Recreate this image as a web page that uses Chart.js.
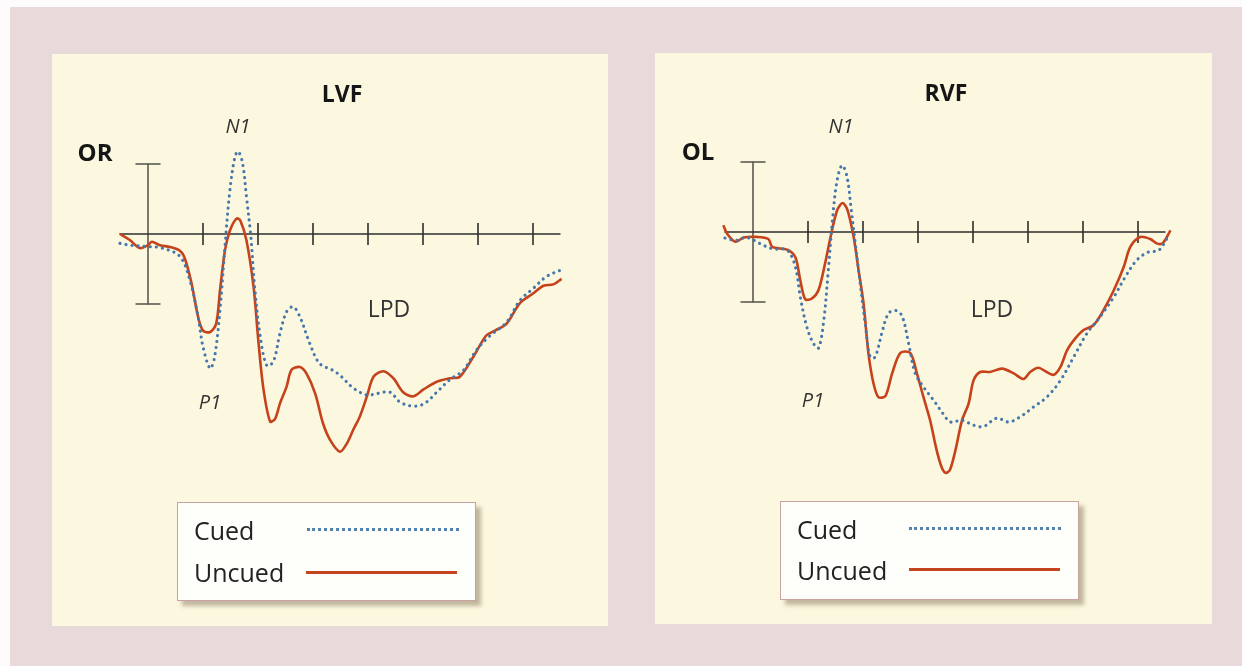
<!DOCTYPE html>
<html>
<head>
<meta charset="utf-8">
<script src="https://cdn.jsdelivr.net/npm/chart.js@4.4.1/dist/chart.umd.min.js"></script>
<style>
  html, body { margin: 0; padding: 0; }
  body { width: 1242px; height: 666px; position: relative; overflow: hidden; background: #fdfbfb; font-family: "Open Sans", sans-serif; }
  .frame { position: absolute; left: 10px; top: 7px; right: 0; bottom: 0; background: #e8d9da; }
  .panel { position: absolute; background: #fbf8df; }
  canvas { position: absolute; }
  .lbl { position: absolute; transform: translate(-50%, -50%); line-height: 1; white-space: nowrap; color: #2a2a2a; }
  .title { font-weight: 700; font-size: 23px; color: #161616; }
  .site { font-weight: 700; font-size: 24px; color: #161616; }
  .comp { font-style: italic; font-size: 20px; color: #333; }
  .lpd { font-size: 23px; color: #333; }
  .legend { position: absolute; width: 297px; height: 97px; background: #fefefb; border: 1.5px solid #caa2a0;
            box-shadow: 5px 5px 4px rgba(125, 105, 80, 0.45); }
  .legend .txt { position: absolute; left: 16px; font-size: 25px; line-height: 1; color: #222; }
  .legend .dots { position: absolute; height: 0; width: 152px; border-top: 3px dotted #5583b0; }
  .legend .solid { position: absolute; height: 0; width: 151px; border-top: 3px solid #c5431d; }
</style>
</head>
<body>
<div class="frame"></div>
<div class="panel" style="left:52px; top:54px; width:556px; height:572px;"></div>
<div class="panel" style="left:655px; top:53px; width:557px; height:571px;"></div>

<canvas id="lvf" width="605" height="630" style="left:38px; top:24px;"></canvas>
<canvas id="rvf" width="605" height="630" style="left:643px; top:22px;"></canvas>

<div class="lbl title" style="left:342px; top:93px;">LVF</div>
<div class="lbl comp" style="left:238px; top:126px;">N1</div>
<div class="lbl site" style="left:95px; top:152px;">OR</div>
<div class="lbl lpd" style="left:389px; top:308px;">LPD</div>
<div class="lbl comp" style="left:210px; top:402px;">P1</div>

<div class="lbl title" style="left:946px; top:92px;">RVF</div>
<div class="lbl comp" style="left:841px; top:126px;">N1</div>
<div class="lbl site" style="left:698px; top:151px;">OL</div>
<div class="lbl lpd" style="left:992px; top:308px;">LPD</div>
<div class="lbl comp" style="left:813px; top:400px;">P1</div>

<div class="legend" style="left:177px; top:502px;">
  <div class="txt" style="top:15px;">Cued</div>
  <div class="dots" style="left:129px; top:25px;"></div>
  <div class="txt" style="top:57px;">Uncued</div>
  <div class="solid" style="left:128px; top:68px;"></div>
</div>
<div class="legend" style="left:780px; top:501px;">
  <div class="txt" style="top:15px;">Cued</div>
  <div class="dots" style="left:128px; top:25px;"></div>
  <div class="txt" style="top:56px;">Uncued</div>
  <div class="solid" style="left:128px; top:66px;"></div>
</div>

<script>
// time in ms after stimulus, amplitude in uV (positive up)
const tickMs = [100, 200, 300, 400, 500, 600, 700]
const axisMs = [-52, 750]
const scaleBarUv = [5, -5]

const lvfCuedMs = [-51, -33, 0, 25, 58, 76, 91, 100, 113, 121, 131, 140, 149, 158, 164, 172, 179, 187, 194, 204, 216, 228, 240, 252, 264, 276, 294, 312, 337, 352, 373, 398, 416, 440, 458, 482, 503, 525, 549, 573, 597, 621, 652, 676, 700, 724, 749]
const lvfCuedUv = [-0.67, -0.8, -0.9, -1.0, -1.6, -3.3, -5.9, -8.05, -9.6, -8.8, -5.4, -0.85, 3.15, 5.5, 5.9, 5.05, 2.65, -0.2, -3.8, -7.3, -9.4, -9.1, -7.1, -5.55, -5.2, -5.9, -7.8, -9.25, -9.75, -10.2, -11.0, -11.5, -11.4, -11.3, -12.0, -12.3, -12.1, -11.3, -10.4, -9.75, -8.3, -7.3, -6.3, -4.75, -3.9, -3.05, -2.6]

const lvfUncuedMs = [-51, -33, -15, 0, 7, 22, 40, 58, 67, 79, 91, 100, 113, 124, 131, 140, 149, 161, 168, 179, 192, 201, 210, 222, 231, 240, 252, 261, 276, 288, 304, 318, 331, 349, 361, 373, 385, 398, 410, 428, 446, 464, 482, 501, 525, 549, 567, 591, 615, 631, 652, 676, 700, 719, 737, 752]
const lvfUncuedUv = [0, -0.43, -1.0, -0.8, -0.55, -0.8, -0.93, -1.2, -1.75, -3.5, -5.9, -6.9, -7.0, -6.4, -4.0, -1.15, 0.25, 1.1, 0.95, -0.45, -3.8, -7.8, -11.1, -13.4, -13.2, -12.1, -10.9, -9.7, -9.5, -9.96, -11.4, -13.5, -14.7, -15.55, -15.0, -14.0, -13.05, -11.6, -10.2, -9.8, -10.3, -11.3, -11.6, -11.1, -10.55, -10.3, -10.2, -8.8, -7.25, -6.9, -6.4, -4.95, -4.25, -3.7, -3.6, -3.2]

const rvfCuedMs = [-51, -32, -11, 13, 35, 62, 77, 86, 98, 110, 119, 128, 137, 145, 153, 162, 171, 178, 186, 195, 204, 213, 222, 234, 246, 259, 271, 283, 295, 310, 328, 346, 359, 380, 401, 419, 443, 465, 486, 510, 534, 559, 583, 607, 631, 656, 677, 698, 719, 738, 756]
const rvfCuedUv = [-0.43, -0.6, -0.4, -0.83, -1.2, -1.3, -2.5, -4.64, -6.8, -7.97, -8.3, -6.55, -2.74, 1.07, 3.7, 4.76, 3.93, 1.8, -0.83, -3.7, -6.55, -8.93, -8.93, -7.26, -5.83, -5.6, -6.0, -7.97, -10.1, -11.07, -12.0, -13.0, -13.57, -13.45, -13.8, -13.9, -13.3, -13.57, -13.2, -12.5, -11.8, -10.6, -8.93, -7.26, -6.07, -4.64, -3.2, -2.0, -1.43, -1.3, -0.24]

const rvfUncuedMs = [-54, -47, -32, -17, 7, 28, 35, 62, 77, 86, 95, 107, 119, 131, 141, 153, 163, 172, 183, 192, 201, 210, 219, 228, 241, 253, 268, 286, 298, 310, 322, 334, 343, 350, 358, 368, 380, 392, 401, 413, 431, 453, 474, 492, 504, 519, 534, 547, 559, 571, 586, 601, 619, 637, 656, 674, 686, 704, 722, 735, 745, 759]
const rvfUncuedUv = [0.48, -0.12, -0.7, -0.4, -0.35, -0.5, -1.07, -1.26, -1.8, -3.45, -4.8, -4.75, -4.16, -2.26, -0.36, 1.55, 2.07, 1.55, -0.36, -2.74, -5.1, -8.7, -10.8, -11.8, -11.7, -10.1, -8.64, -8.64, -10.1, -11.8, -13.45, -15.6, -16.8, -17.2, -17.0, -15.6, -13.45, -12.26, -10.6, -10.0, -10.0, -9.76, -10.1, -10.5, -10.0, -9.7, -10.0, -10.2, -9.64, -8.45, -7.6, -7.0, -6.66, -5.6, -4.16, -2.5, -1.07, -0.36, -0.5, -0.83, -0.8, 0.12]

function toPoints(xs, ys) {
    return xs.map(function(x, i) {
        return { x: x, y: ys[i] }
    })
}

function drawPanel(id, cuedMs, cuedUv, uncuedMs, uncuedUv) {
    const ctx = document.getElementById(id).getContext('2d')
    return new Chart(ctx, {
        type: 'line',
        data: {
            datasets: [{
                label: 'Cued',
                data: toPoints(cuedMs, cuedUv),
                borderColor: '#4577ad',
                borderWidth: 3.1,
                borderDash: [0.1, 6],
                borderCapStyle: 'round',
                pointRadius: 0,
                tension: 0.35
            }, {
                label: 'Uncued',
                data: toPoints(uncuedMs, uncuedUv),
                borderColor: '#c6421b',
                borderWidth: 2.6,
                pointRadius: 0,
                tension: 0.3
            }, {
                label: 'axis',
                data: toPoints(axisMs, [0, 0]),
                borderColor: '#2e2e2e',
                borderWidth: 1.6,
                pointRadius: 0
            }, {
                label: 'ticks',
                data: toPoints(tickMs, tickMs.map(function() { return 0 })),
                showLine: false,
                pointStyle: 'line',
                rotation: 90,
                pointRadius: 11,
                pointBorderWidth: 1.6,
                pointBorderColor: '#2e2e2e'
            }, {
                label: 'scale bar',
                data: toPoints([0, 0], scaleBarUv),
                borderColor: '#5a5a52',
                borderWidth: 1.6,
                pointStyle: 'line',
                rotation: 0,
                pointRadius: 12.5,
                pointBorderWidth: 1.6,
                pointBorderColor: '#5a5a52'
            }]
        },
        options: {
            responsive: false,
            devicePixelRatio: 1,
            animation: false,
            layout: {
                padding: 0,
                autoPadding: false
            },
            elements: {
                line: { borderJoinStyle: 'round' }
            },
            datasets: {
                line: { clip: false }
            },
            scales: {
                x: {
                    type: 'linear',
                    min: -200,
                    max: 900,
                    display: false
                },
                y: {
                    type: 'linear',
                    min: -30,
                    max: 15,
                    display: false
                }
            },
            plugins: {
                legend: { display: false },
                tooltip: { enabled: false }
            }
        }
    })
}

drawPanel('lvf', lvfCuedMs, lvfCuedUv, lvfUncuedMs, lvfUncuedUv)
drawPanel('rvf', rvfCuedMs, rvfCuedUv, rvfUncuedMs, rvfUncuedUv)
</script>
</body>
</html>
